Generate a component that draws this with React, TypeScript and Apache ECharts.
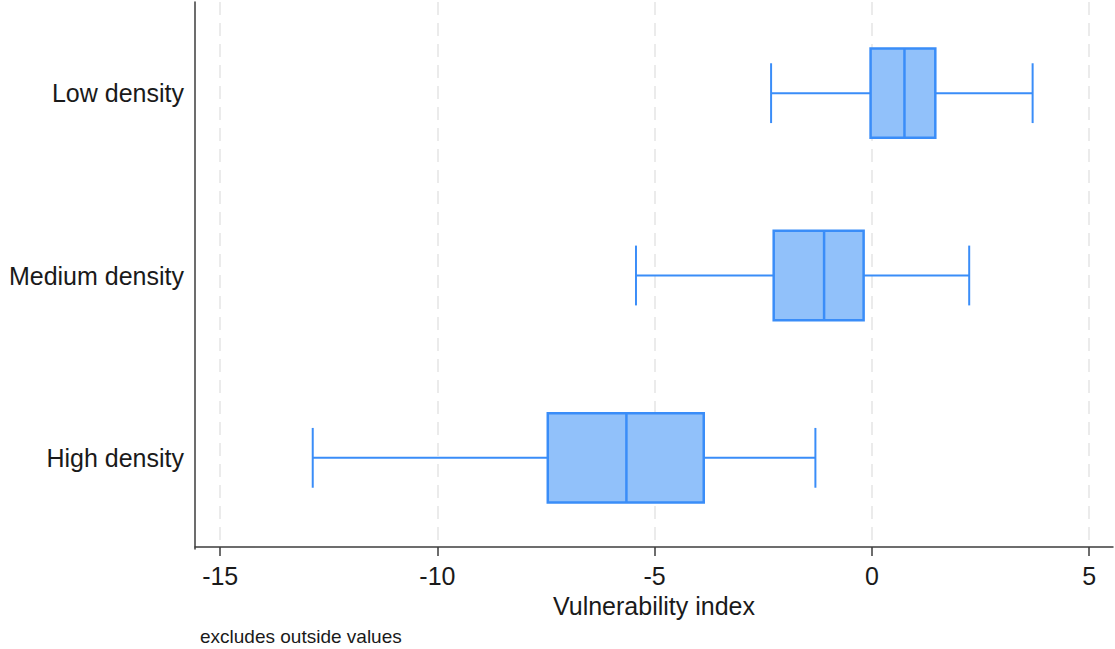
import React, { useEffect, useRef } from "react";
import * as echarts from "echarts";

const categories = ["High density", "Medium density", "Low density"];
const lowerWhisker = [-12.87, -5.43, -2.32];
const q1 = [-7.46, -2.26, -0.03];
const median = [-5.65, -1.1, 0.75];
const q3 = [-3.87, -0.19, 1.46];
const upperWhisker = [-1.3, 2.24, 3.7];
const xTicks = [-15, -10, -5, 0, 5];

const FILL = "#91C1FA";
const STROKE = "#3A8DF8";

export default function App() {
  const ref = useRef<HTMLDivElement>(null);
  useEffect(() => {
    if (!ref.current) return;
    const chart = echarts.init(ref.current, null, { renderer: "svg" });
    const data = categories.map((_, i) => [i, lowerWhisker[i], q1[i], median[i], q3[i], upperWhisker[i]]);
    const font = "'Liberation Sans', Arial, sans-serif";
    chart.setOption({
      animation: false,
      backgroundColor: "#ffffff",
      grid: { left: 195, right: 2, top: 2, bottom: 100, containLabel: false },
      xAxis: {
        type: "value",
        min: -15.58,
        max: 5.55,
        offset: -2,
        name: "Vulnerability index",
        nameLocation: "middle",
        nameGap: 46,
        nameTextStyle: { fontSize: 25, color: "#1a1a1a", fontFamily: font },
        axisLine: { show: true, onZero: false, lineStyle: { color: "#3c3c3c", width: 1.5 } },
        axisTick: { show: true, length: 9, lineStyle: { color: "#3c3c3c", width: 1.5 }, customValues: xTicks },
        axisLabel: { fontSize: 25, color: "#1a1a1a", margin: 16, fontFamily: font, customValues: xTicks },
        splitLine: { show: true, lineStyle: { color: "#ebebeb", width: 2, type: [13, 8] } },
      },
      yAxis: {
        type: "category",
        data: categories,
        axisLine: { show: true, onZero: false, lineStyle: { color: "#3c3c3c", width: 1.5 } },
        axisTick: { show: false },
        axisLabel: { fontSize: 25, color: "#1a1a1a", margin: 11, fontFamily: font },
        splitLine: { show: false },
      },
      graphic: [
        {
          type: "text",
          left: 200,
          top: 627,
          style: { text: "excludes outside values", fontSize: 19, fill: "#1a1a1a", fontFamily: font },
        },
      ],
      series: [
        {
          type: "custom",
          encode: { x: [1, 2, 3, 4, 5], y: 0 },
          data,
          renderItem: (params: any, api: any) => {
            const c = api.value(0);
            const band = api.size([0, 1])[1];
            const half = band * 0.245;
            const cap = band * 0.164;
            const pLo = api.coord([api.value(1), c]);
            const pQ1 = api.coord([api.value(2), c]);
            const pMed = api.coord([api.value(3), c]);
            const pQ3 = api.coord([api.value(4), c]);
            const pHi = api.coord([api.value(5), c]);
            const y = pQ1[1];
            const ls = { stroke: STROKE, lineWidth: 2 };
            return {
              type: "group",
              children: [
                { type: "line", shape: { x1: pLo[0], y1: y, x2: pQ1[0], y2: y }, style: ls },
                { type: "line", shape: { x1: pQ3[0], y1: y, x2: pHi[0], y2: y }, style: ls },
                { type: "line", shape: { x1: pLo[0], y1: y - cap, x2: pLo[0], y2: y + cap }, style: ls },
                { type: "line", shape: { x1: pHi[0], y1: y - cap, x2: pHi[0], y2: y + cap }, style: ls },
                {
                  type: "rect",
                  shape: { x: pQ1[0], y: y - half, width: pQ3[0] - pQ1[0], height: half * 2 },
                  style: { fill: FILL, stroke: STROKE, lineWidth: 2.5 },
                },
                { type: "line", shape: { x1: pMed[0], y1: y - half, x2: pMed[0], y2: y + half }, style: { stroke: STROKE, lineWidth: 2.5 } },
              ],
            };
          },
        },
      ],
    });
    return () => chart.dispose();
  }, []);
  return <div ref={ref} style={{ width: 1115, height: 649, position: "absolute", left: 0, top: 0 }} />;
}
